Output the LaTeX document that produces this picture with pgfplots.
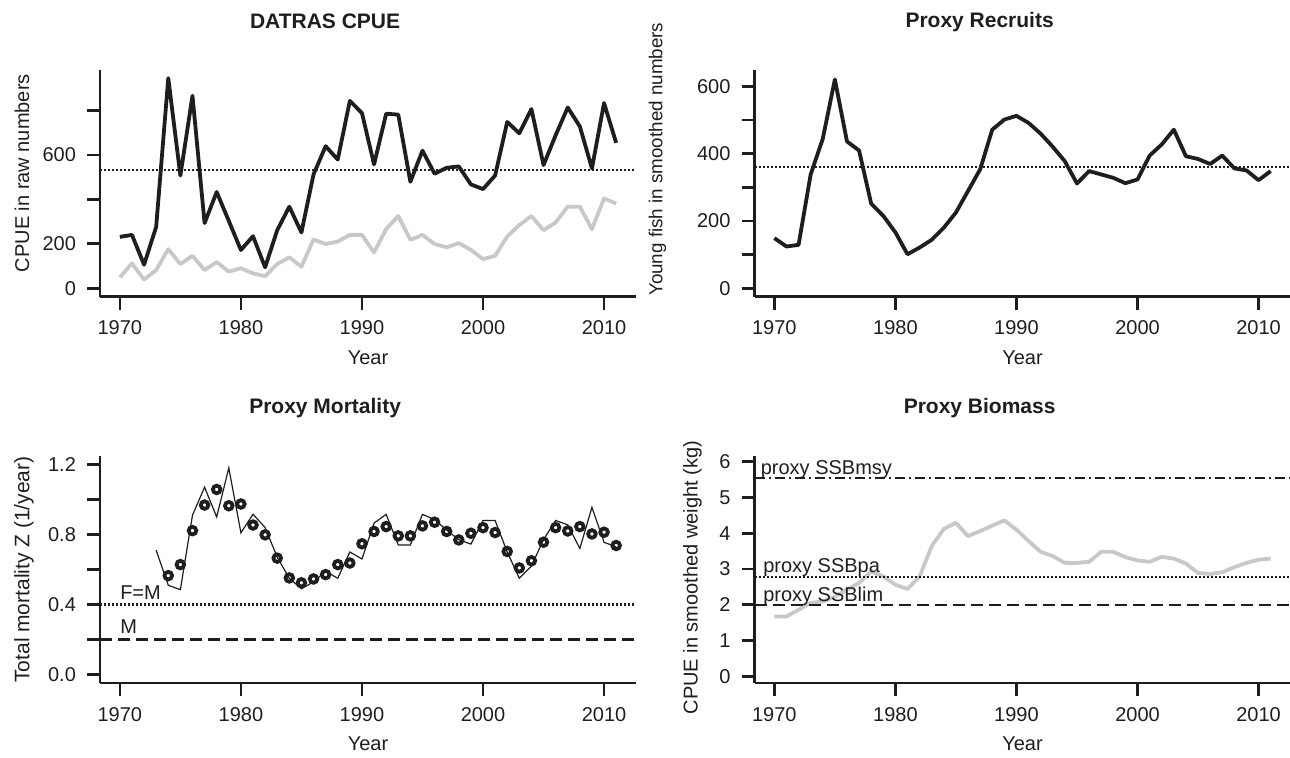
\documentclass[border=0pt]{standalone}
\usepackage{pgfplots}
\pgfplotsset{compat=1.18}
\usepackage{fontspec}
\setmainfont{Liberation Sans}
\definecolor{lgrey}{RGB}{200,200,200}
\definecolor{dk}{RGB}{30,30,30}
\pgfplotsset{
  rpanel/.style={
    scale only axis, width=268pt, height=113.5pt,
    axis x line*=bottom, axis y line*=left,
    axis line style={line width=1.3pt, dk, -},
    tick align=outside, major tick length=6.5pt,
    every tick/.style={line width=1.3pt, dk},
    xmin=1968.36, xmax=2012.64,
    xtick={1970,1980,1990,2000,2010},
    xticklabels={1970,1980,1990,2000,2010},
    /pgf/number format/assume math mode=true,
    ticklabel style={font=\fontsize{10}{12}\selectfont, text=dk},
    xticklabel style={yshift=-2pt},
    yticklabel style={xshift=-2pt},
    xlabel={Year},
    every axis x label/.style={at={(axis description cs:0.5,0)}, yshift=-30.5pt, anchor=center, font=\fontsize{10}{12}\selectfont, text=dk},
    every axis y label/.style={at={(axis description cs:0,0.5)}, rotate=90, anchor=center, font=\fontsize{10}{12}\selectfont, text=dk},
    every axis title/.style={at={(axis description cs:0.42,1)}, yshift=24pt, anchor=center, font=\bfseries\fontsize{10.5}{12}\selectfont, text=dk},
    clip=false,
  },
  dotref/.style={line width=1.15pt, dk, dash pattern=on 1pt off 1pt},
  dashref/.style={line width=1.15pt, dk, dash pattern=on 6pt off 3pt},
  dashdotref/.style={line width=1.15pt, dk, dash pattern=on 5pt off 2pt on 1pt off 2pt},
}
\begin{document}
\begin{tikzpicture}
\path[use as bounding box] (0,0) rectangle (645pt,378.5pt);

% ---------- Panel 1: DATRAS CPUE
\begin{axis}[rpanel, at={(50pt,230.15pt)}, anchor=south west,
  title={DATRAS CPUE},
  ymin=-38, ymax=983,
  ytick={0,200,400,600,800}, yticklabels={0,200,,600,},
  ylabel={CPUE in raw numbers},
  ylabel style={yshift=39pt, xshift=5pt}]
\addplot[lgrey, line width=1.9pt, line join=round] coordinates {
(1970,49)(1971,112)(1972,39)(1973,82)(1974,176)(1975,109)(1976,146)(1977,82)(1978,118)(1979,75)
(1980,90)(1981,67)(1982,54)(1983,109)(1984,139)(1985,97)(1986,219)(1987,199)(1988,210)(1989,240)
(1990,240)(1991,161)(1992,266)(1993,325)(1994,218)(1995,240)(1996,199)(1997,184)(1998,203)(1999,173)
(2000,131)(2001,146)(2002,233)(2003,284)(2004,325)(2005,261)(2006,296)(2007,367)(2008,367)(2009,266)
(2010,404)(2011,381)};
\addplot[dk, line width=1.9pt, line join=round] coordinates {
(1970,231)(1971,240)(1972,106)(1973,276)(1974,945)(1975,507)(1976,866)(1977,293)(1978,433)(1979,303)
(1980,172)(1981,234)(1982,94)(1983,261)(1984,367)(1985,251)(1986,512)(1987,639)(1988,579)(1989,843)
(1990,788)(1991,557)(1992,785)(1993,781)(1994,479)(1995,619)(1996,515)(1997,542)(1998,548)(1999,467)
(2000,446)(2001,507)(2002,748)(2003,697)(2004,806)(2005,554)(2006,688)(2007,813)(2008,728)(2009,539)
(2010,833)(2011,654)};
\addplot[dotref] coordinates {(1968.36,533)(2012.64,533)};
\end{axis}

% ---------- Panel 2: Proxy Recruits
\begin{axis}[rpanel, at={(377.25pt,230.15pt)}, anchor=south west,
  title={Proxy Recruits},
  ymin=-25, ymax=649,
  ytick={0,100,200,300,400,500,600}, yticklabels={0,,200,,400,,600},
  ylabel={Young fish in smoothed numbers},
  ylabel style={yshift=48.5pt, xshift=12pt, font=\fontsize{9.4}{11}\selectfont}]
\addplot[dk, line width=1.9pt, line join=round] coordinates {
(1970,149)(1971,124)(1972,129)(1973,338)(1974,444)(1975,620)(1976,436)(1977,409)(1978,251)(1979,215)
(1980,166)(1981,101)(1982,121)(1983,144)(1984,180)(1985,225)(1986,289)(1987,353)(1988,471)(1989,501)
(1990,512)(1991,491)(1992,459)(1993,420)(1994,377)(1995,311)(1996,348)(1997,338)(1998,328)(1999,312)
(2000,323)(2001,394)(2002,427)(2003,471)(2004,392)(2005,384)(2006,369)(2007,394)(2008,356)(2009,350)
(2010,321)(2011,348)};
\addplot[dotref] coordinates {(1968.36,360)(2012.64,360)};
\end{axis}

% ---------- Panel 3: Proxy Mortality
\begin{axis}[rpanel, at={(50pt,37pt)}, anchor=south west,
  title={Proxy Mortality},
  ymin=-0.048, ymax=1.248,
  ytick={0,0.2,0.4,0.6,0.8,1.0,1.2}, yticklabels={0.0,,0.4,,0.8,,1.2},
  ylabel={Total mortality Z (1/year)},
  ylabel style={yshift=38pt, font=\fontsize{10.5}{12}\selectfont}]
\addplot[dk, line width=0.6pt, line join=miter] coordinates {
(1973,0.71)(1974,0.51)(1975,0.485)(1976,0.91)(1977,1.07)(1978,0.90)(1979,1.18)(1980,0.81)(1981,0.915)(1982,0.84)
(1983,0.67)(1984,0.55)(1985,0.49)(1986,0.53)(1987,0.59)(1988,0.55)(1989,0.70)(1990,0.66)(1991,0.865)(1992,0.915)
(1993,0.74)(1994,0.74)(1995,0.915)(1996,0.885)(1997,0.825)(1998,0.77)(1999,0.745)(2000,0.88)(2001,0.88)(2002,0.70)
(2003,0.55)(2004,0.62)(2005,0.77)(2006,0.88)(2007,0.855)(2008,0.72)(2009,0.955)(2010,0.755)(2011,0.73)};
\addplot[only marks, mark=o, mark size=1.9pt, mark options={line width=1.9pt, draw=dk, fill=white}] coordinates {
(1974,0.565)(1975,0.628)(1976,0.822)(1977,0.968)(1978,1.057)(1979,0.964)(1980,0.974)(1981,0.854)(1982,0.798)
(1983,0.665)(1984,0.552)(1985,0.524)(1986,0.546)(1987,0.571)(1988,0.628)(1989,0.637)(1990,0.747)(1991,0.817)
(1992,0.845)(1993,0.792)(1994,0.792)(1995,0.849)(1996,0.870)(1997,0.817)(1998,0.769)(1999,0.807)(2000,0.839)
(2001,0.811)(2002,0.703)(2003,0.609)(2004,0.650)(2005,0.756)(2006,0.839)(2007,0.820)(2008,0.845)(2009,0.803)
(2010,0.813)(2011,0.737)};
\addplot[dotref] coordinates {(1968.36,0.4)(2012.64,0.4)};
\addplot[dashref] coordinates {(1968.36,0.2)(2012.64,0.2)};
\node[anchor=base west, inner sep=0pt, font=\fontsize{10}{12}\selectfont, text=dk] at (axis cs:1970,0.4) [yshift=2.6pt] {F=M};
\node[anchor=base west, inner sep=0pt, font=\fontsize{10}{12}\selectfont, text=dk] at (axis cs:1970,0.2) [yshift=2.8pt] {M};
\end{axis}

% ---------- Panel 4: Proxy Biomass
\begin{axis}[rpanel, at={(377.25pt,37pt)}, anchor=south west,
  title={Proxy Biomass},
  ymin=-0.19, ymax=6.16,
  ytick={0,1,2,3,4,5,6}, yticklabels={0,1,2,3,4,5,6},
  ylabel={CPUE in smoothed weight (kg)},
  ylabel style={yshift=31pt, xshift=-4pt}]
\addplot[lgrey, line width=1.9pt, line join=round] coordinates {
(1970,1.67)(1971,1.67)(1972,1.86)(1973,2.05)(1974,2.09)(1975,2.23)(1976,2.42)(1977,2.61)(1978,2.93)(1979,2.79)
(1980,2.56)(1981,2.44)(1982,2.79)(1983,3.64)(1984,4.12)(1985,4.29)(1986,3.92)(1987,4.06)(1988,4.21)(1989,4.36)
(1990,4.10)(1991,3.78)(1992,3.48)(1993,3.36)(1994,3.17)(1995,3.17)(1996,3.20)(1997,3.48)(1998,3.48)(1999,3.33)
(2000,3.24)(2001,3.20)(2002,3.34)(2003,3.29)(2004,3.15)(2005,2.89)(2006,2.86)(2007,2.91)(2008,3.05)(2009,3.17)
(2010,3.26)(2011,3.29)};
\addplot[dashdotref] coordinates {(1968.36,5.54)(2012.64,5.54)};
\addplot[dotref] coordinates {(1968.36,2.77)(2012.64,2.77)};
\addplot[dashref] coordinates {(1968.36,2.0)(2012.64,2.0)};
\node[anchor=base west, inner sep=0pt, font=\fontsize{10}{12}\selectfont, text=dk] at (axis cs:1968.85,5.54) [yshift=2pt] {proxy SSBmsy};
\node[anchor=base west, inner sep=0pt, font=\fontsize{10}{12}\selectfont, text=dk] at (axis cs:1969.05,2.77) [yshift=2.2pt] {proxy SSBpa};
\node[anchor=base west, inner sep=0pt, font=\fontsize{10}{12}\selectfont, text=dk] at (axis cs:1969.05,2.0) [yshift=1.7pt] {proxy SSBlim};
\end{axis}
\end{tikzpicture}
\end{document}
